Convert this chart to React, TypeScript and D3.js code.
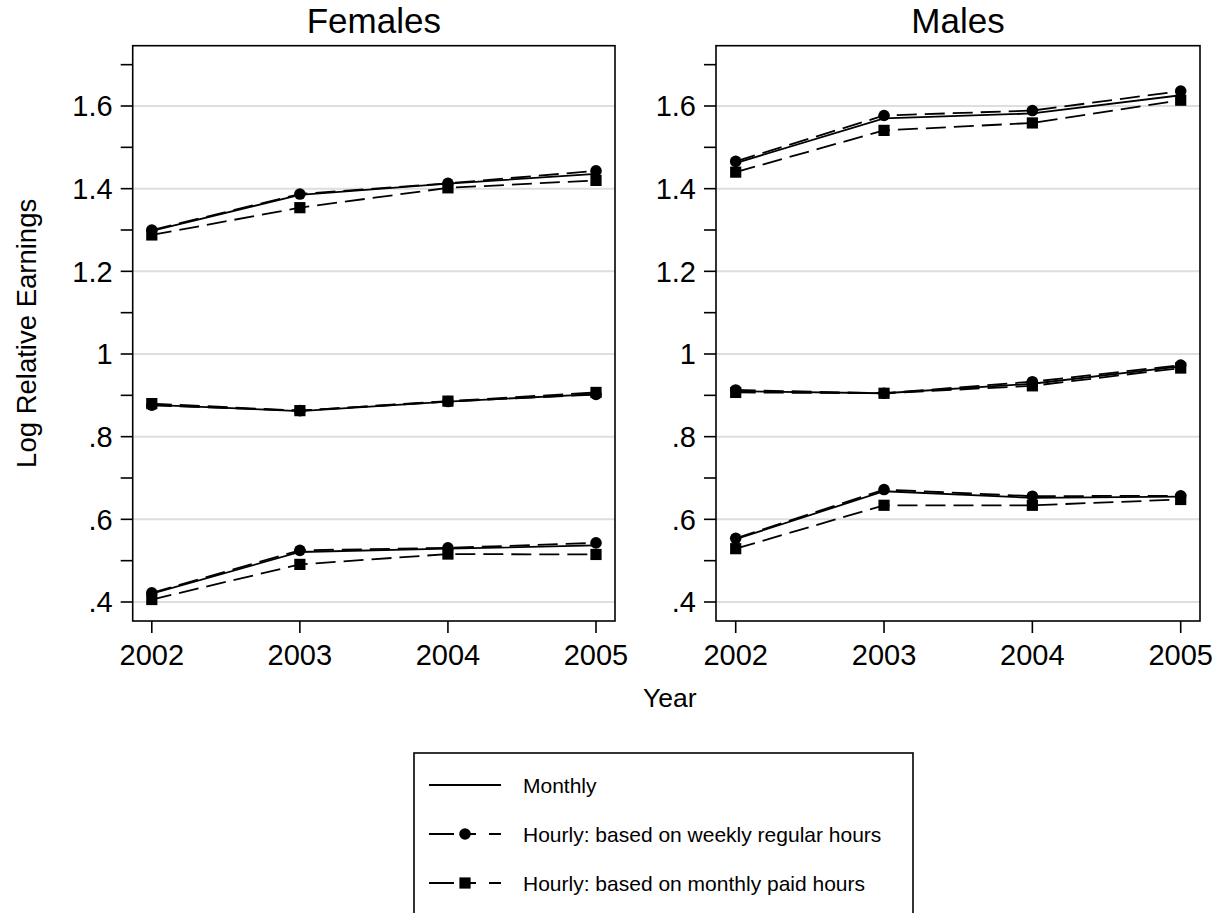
import React from "react";
import * as d3 from "d3";

const years = [2002, 2003, 2004, 2005];
const yearLabels = ["2002", "2003", "2004", "2005"];
const yMajorTicks = [0.4, 0.6, 0.8, 1.0, 1.2, 1.4, 1.6];
const yMajorLabels = [".4", ".6", ".8", "1", "1.2", "1.4", "1.6"];
const yMinorTicks = [0.5, 0.7, 0.9, 1.1, 1.3, 1.5, 1.7];
const panelTitles = ["Females", "Males"];
const seriesNames = [
  "Monthly",
  "Hourly: based on weekly regular hours",
  "Hourly: based on monthly paid hours",
];

// Females: three groups (top, middle, bottom) per series
const femMonthly = [
  [1.298, 1.385, 1.412, 1.436],
  [0.877, 0.862, 0.885, 0.903],
  [0.42, 0.521, 0.529, 0.537],
];
const femWeekly = [
  [1.3, 1.387, 1.413, 1.443],
  [0.876, 0.863, 0.885, 0.902],
  [0.422, 0.525, 0.531, 0.543],
];
const femPaid = [
  [1.288, 1.354, 1.402, 1.42],
  [0.88, 0.863, 0.886, 0.907],
  [0.406, 0.491, 0.516, 0.515],
];
// Males
const maleMonthly = [
  [1.462, 1.57, 1.582, 1.626],
  [0.91, 0.905, 0.928, 0.97],
  [0.552, 0.668, 0.652, 0.655],
];
const maleWeekly = [
  [1.466, 1.577, 1.589, 1.636],
  [0.913, 0.905, 0.933, 0.973],
  [0.554, 0.672, 0.656, 0.657],
];
const malePaid = [
  [1.44, 1.541, 1.559, 1.614],
  [0.907, 0.905, 0.923, 0.966],
  [0.529, 0.634, 0.634, 0.648],
];

const panelsData = [
  [femMonthly, femWeekly, femPaid],
  [maleMonthly, maleWeekly, malePaid],
];

const FONT = "'Liberation Sans', Arial, Helvetica, sans-serif";
const W = 1228;
const H = 913;
const frameTop = 45.7;
const frameBottom = 621;
const panels = [
  { left: 132.7, right: 615, x0: 151.8, x1: 596 },
  { left: 716, right: 1200, x0: 735.7, x1: 1180.7 },
];
const markers = ["none", "circle", "square"];
const dashes = [null, "20 8", "20 8"];
const legendDashes = [null, "25 6 16 13", "25 6 16 13"];

const yScale = d3.scaleLinear().domain([0.4, 1.6]).range([602, 106]);

function Marker({ type, x, y }: { type: string; x: number; y: number }) {
  if (type === "circle") return <circle cx={x} cy={y} r={5.8} fill="#000" />;
  if (type === "square")
    return <rect x={x - 5.6} y={y - 5.6} width={11.2} height={11.2} fill="#000" />;
  return null;
}

function Panel({ idx }: { idx: number }) {
  const p = panels[idx];
  const xScale = d3
    .scaleLinear()
    .domain([years[0], years[years.length - 1]])
    .range([p.x0, p.x1]);
  const line = d3
    .line<number>()
    .x((_, i) => xScale(years[i]))
    .y((v) => yScale(v));
  const data = panelsData[idx];
  return (
    <g>
      {yMajorTicks.map((t) => (
        <line
          key={"g" + t}
          x1={p.left}
          x2={p.right}
          y1={yScale(t)}
          y2={yScale(t)}
          stroke="#dedede"
          strokeWidth={2}
        />
      ))}
      {data.map((series, si) =>
        series.map((vals, gi) => (
          <g key={`s${si}-${gi}`}>
            <path
              d={line(vals) || ""}
              fill="none"
              stroke="#000"
              strokeWidth={1.8}
              strokeDasharray={dashes[si] || undefined}
            />
            {vals.map((v, i) => (
              <Marker key={i} type={markers[si]} x={xScale(years[i])} y={yScale(v)} />
            ))}
          </g>
        ))
      )}
      <rect
        x={p.left}
        y={frameTop}
        width={p.right - p.left}
        height={frameBottom - frameTop}
        fill="none"
        stroke="#000"
        strokeWidth={1.6}
      />
      {[...yMajorTicks, ...yMinorTicks].map((t) => (
        <line
          key={"t" + t}
          x1={p.left - 12}
          x2={p.left}
          y1={yScale(t)}
          y2={yScale(t)}
          stroke="#000"
          strokeWidth={1.6}
        />
      ))}
      {yMajorTicks.map((t, i) => (
        <text
          key={"l" + t}
          x={p.left - 20}
          y={yScale(t) + 10.3}
          textAnchor="end"
          fontSize={29}
          fontFamily={FONT}
        >
          {yMajorLabels[i]}
        </text>
      ))}
      {years.map((yr, i) => (
        <g key={"x" + yr}>
          <line
            x1={xScale(yr)}
            x2={xScale(yr)}
            y1={frameBottom}
            y2={frameBottom + 12}
            stroke="#000"
            strokeWidth={1.6}
          />
          <text
            x={xScale(yr)}
            y={665}
            textAnchor="middle"
            fontSize={29}
            fontFamily={FONT}
          >
            {yearLabels[i]}
          </text>
        </g>
      ))}
      <text
        x={(p.left + p.right) / 2}
        y={33}
        textAnchor="middle"
        fontSize={35}
        fontFamily={FONT}
      >
        {panelTitles[idx]}
      </text>
    </g>
  );
}

export default function App() {
  const legendRows = [785, 834, 883];
  return (
    <svg
      width={W}
      height={H}
      style={{ position: "absolute", left: 0, top: 0, display: "block", background: "#fff" }}
    >
      <rect x={0} y={0} width={W} height={H} fill="#fff" />
      <Panel idx={0} />
      <Panel idx={1} />
      <text x={669.7} y={707} textAnchor="middle" fontSize={26.5} fontFamily={FONT}>
        Year
      </text>
      <text
        transform={`translate(36, ${(frameTop + frameBottom) / 2}) rotate(-90)`}
        textAnchor="middle"
        fontSize={27.5}
        fontFamily={FONT}
      >
        Log Relative Earnings
      </text>
      <rect x={414} y={753} width={499} height={200} fill="#fff" stroke="#000" strokeWidth={1.6} />
      {seriesNames.map((name, i) => (
        <g key={name}>
          <line
            x1={429}
            x2={501}
            y1={legendRows[i]}
            y2={legendRows[i]}
            stroke="#000"
            strokeWidth={1.8}
            strokeDasharray={legendDashes[i] || undefined}
          />
          <Marker type={markers[i]} x={465} y={legendRows[i]} />
          <text x={523} y={legendRows[i] + 7.5} fontSize={21} fontFamily={FONT}>
            {name}
          </text>
        </g>
      ))}
    </svg>
  );
}
